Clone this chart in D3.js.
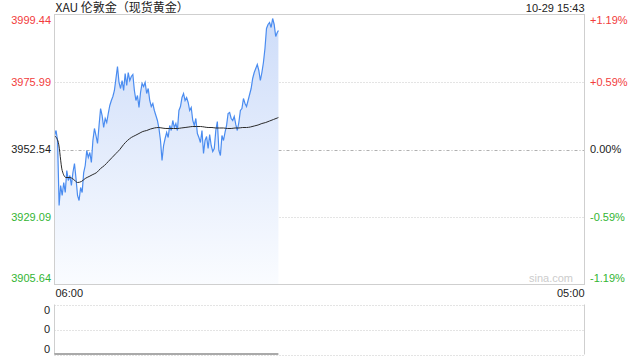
<!DOCTYPE html>
<html>
<head>
<meta charset="utf-8">
<script src="https://cdn.jsdelivr.net/npm/d3@7"></script>
<style>
  body { margin: 0; background: #fff; }
  svg { display: block; font-family: "Liberation Sans", Arial, sans-serif; }
</style>
</head>
<body>
<div id="chart"></div>
<script>
// session: 06:00 on 10-29 to 05:00 next day, one price every 4 minutes
var sessionStart = new Date(2025, 9, 29, 6, 0);
var sessionEnd = new Date(2025, 9, 30, 5, 0);
var lastTime = new Date(2025, 9, 29, 15, 43);
var priceStep = 4;   // minutes between price points
var avgStep = 10;    // minutes between average points

var prices = [
  3957.40, 3959.14, 3955.67, 3933.09, 3940.03, 3936.56, 3941.08, 3937.60, 3945.25, 3941.77,
  3943.51, 3940.03, 3944.55, 3947.68, 3942.47, 3936.56, 3934.82, 3939.34, 3937.60, 3944.55,
  3946.98, 3952.19, 3949.76, 3951.50, 3948.02, 3955.67, 3959.84, 3957.40, 3954.63, 3960.88,
  3966.78, 3964.35, 3960.18, 3963.31, 3961.92, 3965.05, 3967.83, 3969.56, 3970.95, 3973.04,
  3977.21, 3981.37, 3975.82, 3973.73, 3976.51, 3973.04, 3978.94, 3974.77, 3979.29, 3976.51,
  3977.90, 3978.60, 3973.04, 3969.56, 3971.30, 3967.13, 3972.34, 3975.47, 3974.43, 3975.82,
  3972.00, 3973.73, 3969.56, 3967.48, 3968.52, 3966.09, 3964.35, 3962.62, 3959.84, 3955.67,
  3948.72, 3953.93, 3956.36, 3958.45, 3956.71, 3960.88, 3959.14, 3962.62, 3960.18, 3961.57,
  3959.14, 3966.09, 3967.48, 3970.61, 3972.00, 3969.56, 3970.61, 3968.87, 3966.09, 3967.13,
  3962.62, 3960.88, 3963.31, 3958.10, 3956.71, 3954.97, 3959.14, 3951.15, 3955.67, 3957.06,
  3952.89, 3957.75, 3953.93, 3951.85, 3952.89, 3959.14, 3962.27, 3952.19, 3950.46, 3957.40,
  3955.67, 3958.45, 3960.88, 3965.05, 3965.39, 3963.31, 3962.62, 3964.01, 3961.23, 3959.14,
  3961.92, 3966.09, 3966.78, 3970.26, 3968.52, 3967.48, 3969.56, 3971.65, 3973.73, 3977.21,
  3979.29, 3980.68, 3982.07, 3979.99, 3976.51, 3979.29, 3982.76, 3987.63, 3994.58, 3995.97,
  3996.66, 3994.92, 3998.05, 3995.97, 3991.80, 3993.19
];
var lastPrice = 3993.88;

var avgPrices = [
  3957.40, 3954.97, 3945.25, 3942.81, 3942.81, 3942.12, 3941.08, 3941.42, 3942.47, 3943.16,
  3943.86, 3944.55, 3945.94, 3946.98, 3948.37, 3949.76, 3951.15, 3952.54, 3954.28, 3955.67,
  3956.71, 3957.40, 3958.10, 3958.79, 3959.14, 3959.66, 3960.01, 3960.18, 3960.01, 3959.84,
  3959.84, 3959.84, 3959.84, 3960.01, 3960.18, 3960.36, 3960.53, 3960.53, 3960.53, 3960.36,
  3960.18, 3960.18, 3960.01, 3960.01, 3960.01, 3959.84, 3959.84, 3960.01, 3960.01, 3960.18,
  3960.18, 3960.36, 3960.70, 3961.05, 3961.57, 3961.92, 3962.44, 3962.96, 3963.48
];
var lastAvg = 3963.66;

var priceTicks = [3999.44, 3975.99, 3952.54, 3929.09, 3905.64];
var pctLabels = ["+1.19%", "+0.59%", "0.00%", "-0.59%", "-1.19%"];
var volumeTicks = [0, 0, 0];
var timeLabels = ["06:00", "05:00"];
var title = "XAU 伦敦金（现货黄金）";
var stamp = "10-29 15:43";

var red = "#f23c3c", green = "#33b533", textDark = "#222";

// build the point lists
var priceData = prices.map(function(p, i) {
  return { t: d3.timeMinute.offset(sessionStart, i * priceStep), v: p };
});
priceData.push({ t: lastTime, v: lastPrice });

var avgData = avgPrices.map(function(p, i) {
  return { t: d3.timeMinute.offset(sessionStart, i * avgStep), v: p };
});
avgData.push({ t: lastTime, v: lastAvg });

var width = 640, height = 360;
// note: "top" is taken by window.top, so use plot* names
var plotLeft = 54.5, plotRight = 584.5, plotTop = 14.5, plotBottom = 284.5;
var vTop = 304.5, vBottom = 354.5;

var svg = d3.select("#chart").append("svg")
  .attr("width", width)
  .attr("height", height);

var x = d3.scaleTime().domain([sessionStart, sessionEnd]).range([plotLeft, plotRight]);
var y = d3.scaleLinear().domain([priceTicks[4], priceTicks[0]]).range([plotBottom, plotTop]);
var vy = d3.scaleLinear().domain([0, 1]).range([vBottom, vTop]);

// fill gradient
var grad = svg.append("defs").append("linearGradient")
  .attr("id", "fillGrad")
  .attr("gradientUnits", "userSpaceOnUse")
  .attr("x1", 0).attr("y1", plotTop).attr("x2", 0).attr("y2", plotBottom);
grad.append("stop").attr("offset", "0%").attr("stop-color", "#cddcf9");
grad.append("stop").attr("offset", "100%").attr("stop-color", "#fafcff");

// gridlines
svg.selectAll(".grid")
  .data(priceTicks.slice(1, 4))
  .enter().append("line")
  .attr("class", "grid")
  .attr("x1", plotLeft).attr("x2", plotRight)
  .attr("y1", function(d) { return Math.round(y(d)) + 0.5; })
  .attr("y2", function(d) { return Math.round(y(d)) + 0.5; })
  .style("stroke", function(d, i) { return i == 1 ? "#b0b0b0" : "#c8c8c8"; })
  .style("stroke-dasharray", function(d, i) { return i == 1 ? "3,2,1,2" : "1,2"; });

// area + price line
var area = d3.area()
  .x(function(d) { return x(d.t); })
  .y0(plotBottom)
  .y1(function(d) { return y(d.v); });

svg.append("path")
  .datum(priceData)
  .attr("d", area)
  .style("fill", "url(#fillGrad)");

var line = d3.line()
  .x(function(d) { return x(d.t); })
  .y(function(d) { return y(d.v); });

svg.append("path")
  .datum(priceData)
  .attr("d", line)
  .style("fill", "none")
  .style("stroke", "#4a8cf0")
  .style("stroke-width", 1.2);

var avgLine = d3.line()
  .curve(d3.curveMonotoneX)
  .x(function(d) { return x(d.t); })
  .y(function(d) { return y(d.v); });

svg.append("path")
  .datum(avgData)
  .attr("d", avgLine)
  .style("fill", "none")
  .style("stroke", "#2a2a2a")
  .style("stroke-width", 1);

// main frame
svg.append("rect")
  .attr("x", plotLeft).attr("y", plotTop)
  .attr("width", plotRight - plotLeft).attr("height", plotBottom - plotTop)
  .style("fill", "none")
  .style("stroke", "#cfcfcf");

// left price labels, the outer two pulled inside the frame
function labelY(v, i, n, scale) {
  var p = scale(v);
  if (i == 0) return p + 6;
  if (i == n - 1) return p - 6;
  return p;
}

svg.selectAll(".plabel")
  .data(priceTicks)
  .enter().append("text")
  .attr("class", "plabel")
  .attr("x", 51)
  .attr("y", function(d, i) { return labelY(d, i, priceTicks.length, y); })
  .attr("dy", "0.35em")
  .attr("text-anchor", "end")
  .style("font-size", "11px")
  .style("fill", function(d, i) { return i < 2 ? red : (i == 2 ? textDark : green); })
  .text(function(d) { return d.toFixed(2); });

svg.selectAll(".pct")
  .data(priceTicks)
  .enter().append("text")
  .attr("class", "pct")
  .attr("x", 590)
  .attr("y", function(d, i) { return labelY(d, i, priceTicks.length, y); })
  .attr("dy", "0.35em")
  .style("font-size", "11px")
  .style("fill", function(d, i) { return i < 2 ? red : (i == 2 ? textDark : green); })
  .text(function(d, i) { return pctLabels[i]; });

// time labels
svg.append("text")
  .attr("x", plotLeft + 1).attr("y", 293).attr("dy", "0.35em")
  .style("font-size", "11px").style("fill", textDark)
  .text(timeLabels[0]);
svg.append("text")
  .attr("x", plotRight).attr("y", 293).attr("dy", "0.35em")
  .attr("text-anchor", "end")
  .style("font-size", "11px").style("fill", textDark)
  .text(timeLabels[1]);

// watermark
svg.append("text")
  .attr("x", 573).attr("y", 278).attr("dy", "0.35em")
  .attr("text-anchor", "end")
  .style("font-size", "11px").style("fill", "#cccccc")
  .text("sina.com");

// title and timestamp
svg.append("text")
  .attr("x", plotLeft + 1).attr("y", 8).attr("dy", "0.35em")
  .style("font-family", "'Noto Sans CJK SC', 'Liberation Sans', sans-serif")
  .style("font-size", "12px").style("fill", textDark)
  .text(title);
svg.append("text")
  .attr("x", plotRight).attr("y", 8).attr("dy", "0.35em")
  .attr("text-anchor", "end")
  .style("font-size", "11px").style("fill", textDark)
  .text(stamp);

// volume panel
var vLines = [vTop, (vTop + vBottom) / 2, vBottom];
svg.selectAll(".vgrid")
  .data(vLines)
  .enter().append("line")
  .attr("class", "vgrid")
  .attr("x1", plotLeft).attr("x2", plotRight)
  .attr("y1", function(d) { return Math.round(d) + 0.5; })
  .attr("y2", function(d) { return Math.round(d) + 0.5; })
  .style("stroke", "#c8c8c8")
  .style("stroke-dasharray", "1,2");

svg.append("line")
  .attr("x1", plotLeft).attr("x2", plotLeft).attr("y1", vTop).attr("y2", vBottom)
  .style("stroke", "#cfcfcf");
svg.append("line")
  .attr("x1", plotRight).attr("x2", plotRight).attr("y1", vTop).attr("y2", vBottom)
  .style("stroke", "#cfcfcf");

// volume is zero for the whole session so far
svg.append("line")
  .attr("x1", x(sessionStart)).attr("x2", x(lastTime))
  .attr("y1", vy(0) - 0.5).attr("y2", vy(0) - 0.5)
  .style("stroke", "#555");

svg.selectAll(".vlabel")
  .data(volumeTicks)
  .enter().append("text")
  .attr("class", "vlabel")
  .attr("x", 50)
  .attr("y", function(d, i) {
    if (i == 0) return vTop + 6;
    if (i == 2) return vBottom - 5;
    return (vTop + vBottom) / 2;
  })
  .attr("dy", "0.35em")
  .attr("text-anchor", "end")
  .style("font-size", "11px").style("fill", textDark)
  .text(function(d) { return d; });
</script>
</body>
</html>
